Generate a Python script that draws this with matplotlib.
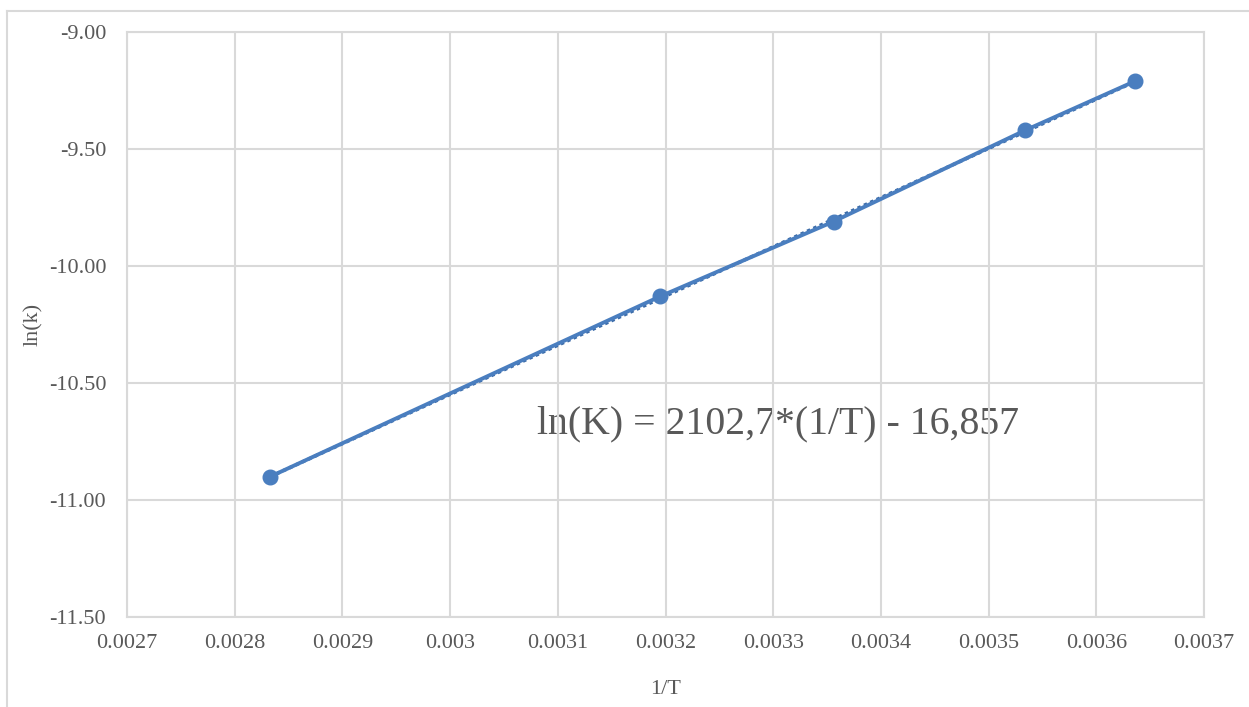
"""
Arrhenius-type plot: ln(k) against 1/T with linear trendline.
"""

import matplotlib
matplotlib.use("Agg")
import matplotlib.pyplot as plt
import numpy as np
from matplotlib.lines import Line2D
from matplotlib.ticker import FixedLocator, FuncFormatter

# data
inv_T = [0.002833, 0.003195, 0.003356, 0.003534, 0.003636]
ln_k = [-10.90, -10.13, -9.81, -9.42, -9.21]

# trendline as printed on the chart
slope = 2102.7
intercept = -16.857
equation = "ln(K) = 2102,7*(1/T) - 16,857"

x_ticks = [0.0027, 0.0028, 0.0029, 0.003, 0.0031, 0.0032, 0.0033, 0.0034, 0.0035, 0.0036, 0.0037]
x_tick_labels = ["0.0027", "0.0028", "0.0029", "0.003", "0.0031", "0.0032",
                 "0.0033", "0.0034", "0.0035", "0.0036", "0.0037"]
y_ticks = [-11.5, -11.0, -10.5, -10.0, -9.5, -9.0]

BLUE = "#4A7EBF"
GRID = "#D9D9D9"
TEXT = "#595959"

plt.rcParams["font.family"] = ["Liberation Serif", "DejaVu Serif"]

fig = plt.figure(figsize=(12.49, 7.07), dpi=100)
W, H = 1249, 707
ax = fig.add_axes([127 / W, 1 - 617 / H, (1204 - 127) / W, (617 - 32) / H])

ax.set_xlim(x_ticks[0], x_ticks[-1])
ax.set_ylim(y_ticks[0], y_ticks[-1])
ax.xaxis.set_major_locator(FixedLocator(x_ticks))
ax.set_xticklabels(x_tick_labels)
ax.yaxis.set_major_locator(FixedLocator(y_ticks))
ax.yaxis.set_major_formatter(FuncFormatter(lambda v, _: f"{v:.2f}"))
ax.tick_params(axis="x", length=0, labelsize=16, labelcolor=TEXT, pad=12)
ax.tick_params(axis="y", length=0, labelsize=16, labelcolor=TEXT, pad=15)
ax.grid(True, color=GRID, linewidth=1.5, zorder=0)
for s in ax.spines.values():
    s.set_color(GRID)
    s.set_linewidth(1.5)

# dotted linear trendline
xt = np.array([inv_T[0], inv_T[-1]])
ax.plot(xt, slope * xt + intercept, color="#3B6BA8", linewidth=2.5,
        linestyle=(0, (1, 1)), zorder=2)
# data series
ax.plot(inv_T, ln_k, color=BLUE, linewidth=2.8, marker="o", markersize=10.5,
        zorder=3)

ax.text(0.003081, -10.675, equation, fontsize=28.6, color=TEXT, zorder=1,
        ha="left", va="center")

ax.set_xlabel("1/T", fontsize=16, color=TEXT, labelpad=20)
ax.set_ylabel("ln(k)", fontsize=16, color=TEXT, labelpad=4)

# outer chart frame
fig.add_artist(Line2D([7 / W, 7 / W], [0, 1 - 11 / H], transform=fig.transFigure,
                      color=GRID, linewidth=1.5))
fig.add_artist(Line2D([7 / W, 1], [1 - 11 / H, 1 - 11 / H], transform=fig.transFigure,
                      color=GRID, linewidth=1.5))

fig.savefig("out.png", dpi=100)
